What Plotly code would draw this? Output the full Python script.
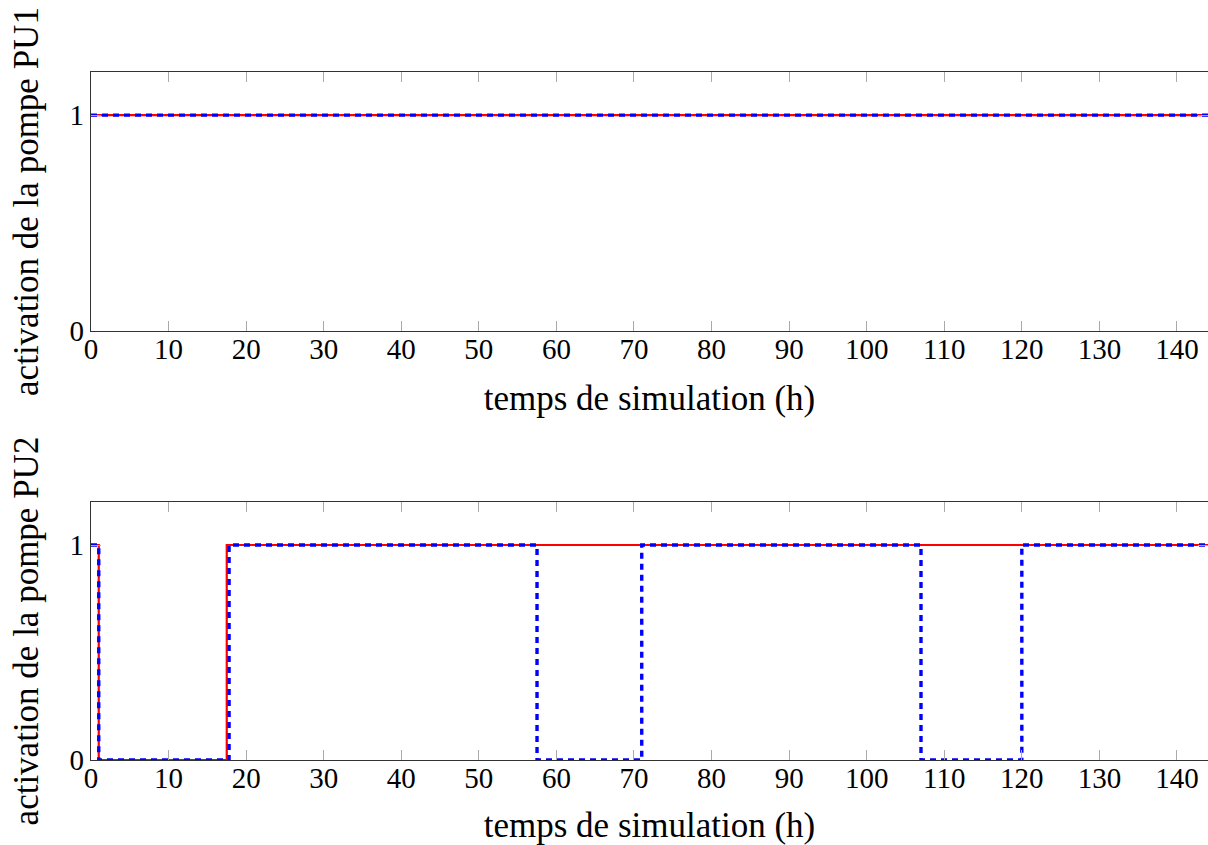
import plotly.graph_objects as go
from plotly.subplots import make_subplots

# Données : activation des pompes (créneaux horaires)
temps_pu1_ref = [0, 144]
etat_pu1_ref = [1, 1]
temps_pu1_opt = [0, 144]
etat_pu1_opt = [1, 1]

temps_pu2_ref = [0, 1, 17.5, 144]
etat_pu2_ref = [1, 0, 1, 1]
temps_pu2_opt = [0, 1, 17.8, 57.5, 71, 107, 120, 144]
etat_pu2_opt = [1, 0, 1, 0, 1, 0, 1, 1]

x_ticks = list(range(0, 150, 10))
police = "Liberation Serif"

fig = make_subplots(rows=2, cols=1, vertical_spacing=0.2485)

for ligne, (tr, er, to, eo) in enumerate([
        (temps_pu1_ref, etat_pu1_ref, temps_pu1_opt, etat_pu1_opt),
        (temps_pu2_ref, etat_pu2_ref, temps_pu2_opt, etat_pu2_opt)], start=1):
    # Courbe de référence (rouge, trait plein)
    fig.add_trace(go.Scatter(
        x=tr, y=er, mode='lines', line_shape='hv',
        line=dict(color='red', width=2.2), showlegend=False
    ), row=ligne, col=1)
    # Courbe optimisée (bleu, tirets)
    fig.add_trace(go.Scatter(
        x=to, y=eo, mode='lines', line_shape='hv',
        line=dict(color='blue', width=3.4, dash='6px,5px'), showlegend=False
    ), row=ligne, col=1)

domaines = {1: [0.6235, 1.0], 2: [0.0, 0.375]}
for ligne, nom in [(1, "PU1"), (2, "PU2")]:
    fig.update_xaxes(
        range=[0, 144], tickvals=x_ticks, ticks='inside', ticklen=10,
        tickcolor='#aaaaaa', mirror='allticks', showline=True, linecolor='#333333',
        linewidth=1.2, showgrid=False, zeroline=False, automargin=False,
        ticklabelstandoff=-8,
        title=dict(text="temps de simulation (h)", standoff=21),
        row=ligne, col=1)
    fig.update_yaxes(
        range=[0, 1.2], tickvals=[0, 1], ticks='inside', ticklen=10,
        tickcolor='#aaaaaa', mirror='allticks', showline=True, linecolor='#333333',
        linewidth=1.2, showgrid=False, zeroline=False, automargin=False,
        domain=domaines[ligne],
        title=dict(text="activation de la pompe " + nom, standoff=20),
        row=ligne, col=1)

fig.update_layout(
    width=1208, height=845,
    margin=dict(l=91, r=0, t=72, b=85),
    plot_bgcolor='white', paper_bgcolor='white',
    font=dict(family=police, size=29, color='black'),
)

# pas de marge autour de la page, pas de barre d'outils
fig.write_html("out.html", config={'displayModeBar': False},
               post_script="document.body.style.margin='0';")
